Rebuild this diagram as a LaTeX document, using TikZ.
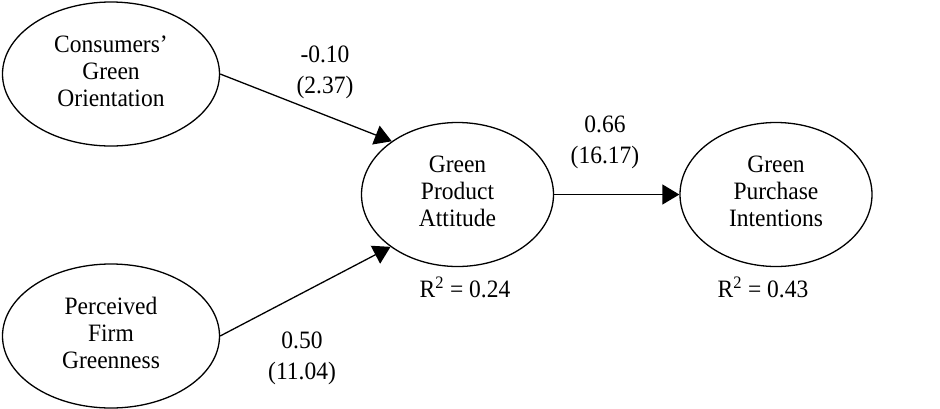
\documentclass[tikz,border=0pt]{standalone}
\usepackage{fontspec}
\setmainfont{Liberation Serif}[FakeStretch=0.94]
\usetikzlibrary{positioning, arrows.meta, shapes.geometric}

\begin{document}
\begin{tikzpicture}[
    x=1pt, y=-1pt,
    construct/.style={ellipse, draw, line width=1.3pt, inner sep=0pt, minimum width=217pt, minimum height=144pt, align=center, text depth=6pt, font=\fontsize{25}{27.2}\selectfont},
    target/.style={construct, minimum width=192pt},
    arrow/.style={-{Triangle[length=17pt, width=20pt]}, line width=1.3pt},
    coef/.style={align=center, font=\fontsize{25}{31}\selectfont},
    rsq/.style={font=\fontsize{25}{27}\selectfont}
]
\useasboundingbox (0,0) rectangle (940,408);

% Constructs
\node[construct] (cgo) at (111,74) {Consumers’\\Green\\Orientation};
\node[construct] (pfg) at (111,336) {Perceived\\Firm\\Greenness};
\node[target] (gpa) at (457.5,194.5) {Green\\Product\\Attitude};
\node[target] (gpi) at (776,194.5) {Green\\Purchase\\Intentions};

% Paths
\draw[arrow] (cgo.east) -- (gpa.141);
\draw[arrow] (pfg.east) -- (gpa.218);
\draw[arrow] (gpa.east) -- (gpi.west);

% Path coefficients (t-values)
\node[coef] (c1) at (325,72) {-0.10\\(2.37)};
\node[coef] (c2) at (302,358) {0.50\\(11.04)};
\node[coef] (c3) at (605,142) {0.66\\(16.17)};

% Explained variance
\node[rsq] (r1) at (465,287) {R\textsuperscript{2} = 0.24};
\node[rsq] (r2) at (763,287) {R\textsuperscript{2} = 0.43};

\end{tikzpicture}
\end{document}
